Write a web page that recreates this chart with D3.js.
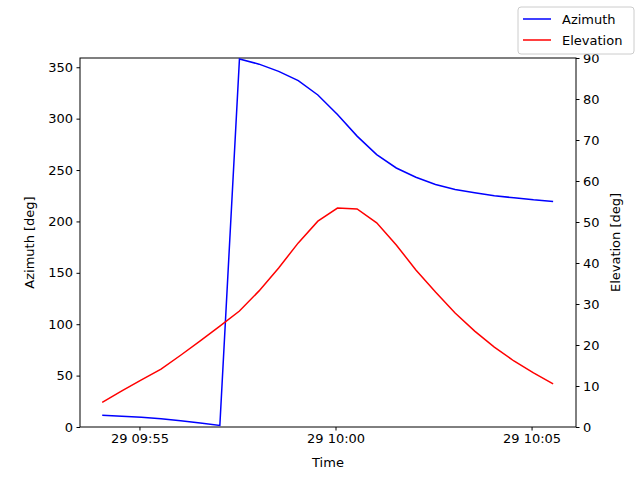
<!DOCTYPE html><html><head><meta charset="utf-8"><script src="https://cdn.jsdelivr.net/npm/d3@7"></script>
<style>body{margin:0}text{font-family:"DejaVu Sans",sans-serif}</style></head><body><svg id="c" width="640" height="480"></svg>
<script>
const startTime = "2024-01-29T09:54:03";
const stepSeconds = 30;
const azimuth = [11.5,10.5,9.5,8,6,4,1.5,358,353,346,337,323,304,283,265,252,243,236,231,228,225,223,221,219.5];
const elevation = [6,8.8,11.5,14.1,17.5,21,24.6,28.3,33.2,38.8,44.9,50.2,53.4,53.2,49.8,44.4,38.3,32.9,27.8,23.4,19.5,16.1,13.2,10.5];
const leftTicks = [0,50,100,150,200,250,300,350];
const rightTicks = [0,10,20,30,40,50,60,70,80,90];
const timeTicks = ["2024-01-29T09:55:00","2024-01-29T10:00:00","2024-01-29T10:05:00"];

const t0 = new Date(startTime);
const times = azimuth.map((_,i)=>new Date(t0.getTime()+i*stepSeconds*1000));
const svg = d3.select("#c");
const L=80,R=576,T=58,B=427;
const x = d3.scaleTime().domain([new Date("2024-01-29T09:53:29"),new Date("2024-01-29T10:06:08")]).range([L,R]);
const yl = d3.scaleLinear().domain([0,359]).range([B,T]);
const yr = d3.scaleLinear().domain([0,90]).range([B,T]);
const fmt = d3.timeFormat("%d %H:%M");
svg.append("g").attr("transform",`translate(0,${B})`).call(d3.axisBottom(x).tickValues(timeTicks.map(d=>new Date(d))).tickFormat(fmt).tickSizeOuter(0).tickSize(3.5).tickPadding(3.5));
svg.append("g").attr("transform",`translate(${L},0)`).call(d3.axisLeft(yl).tickValues(leftTicks).tickSizeOuter(0).tickSize(3.5).tickPadding(3.5));
svg.append("g").attr("transform",`translate(${R},0)`).call(d3.axisRight(yr).tickValues(rightTicks).tickSizeOuter(0).tickSize(3.5).tickPadding(3.5));
svg.selectAll(".tick text").attr("font-size",13).attr("font-family","DejaVu Sans").attr("fill","#000");
svg.selectAll(".domain").remove();
svg.append("rect").attr("x",L).attr("y",T).attr("width",R-L).attr("height",B-T).attr("fill","none").attr("stroke","#000").attr("stroke-width",1);
svg.append("path").datum(azimuth).attr("fill","none").attr("stroke","blue").attr("stroke-width",1.5)
 .attr("d",d3.line().x((d,i)=>x(times[i])).y(d=>yl(d)));
svg.append("path").datum(elevation).attr("fill","none").attr("stroke","red").attr("stroke-width",1.5)
 .attr("d",d3.line().x((d,i)=>x(times[i])).y(d=>yr(d)));
svg.append("text").attr("x",(L+R)/2).attr("y",467).attr("text-anchor","middle").attr("font-size",13).text("Time");
svg.append("text").attr("transform",`translate(34,${(T+B)/2}) rotate(-90)`).attr("text-anchor","middle").attr("font-size",13).text("Azimuth [deg]");
svg.append("text").attr("transform",`translate(620,${(T+B)/2}) rotate(-90)`).attr("text-anchor","middle").attr("font-size",13).text("Elevation [deg]");
const lg = svg.append("g");
lg.append("rect").attr("x",518).attr("y",7).attr("width",116).attr("height",47).attr("rx",3).attr("fill","#fff").attr("stroke","#ccc");
[["Azimuth","blue"],["Elevation","red"]].forEach(([n,c],i)=>{
 const yy=19+i*21;
 lg.append("line").attr("x1",523).attr("x2",551).attr("y1",yy).attr("y2",yy).attr("stroke",c).attr("stroke-width",1.5);
 lg.append("text").attr("x",562).attr("y",yy+4.5).attr("font-size",13).text(n);
});
</script></body></html>
